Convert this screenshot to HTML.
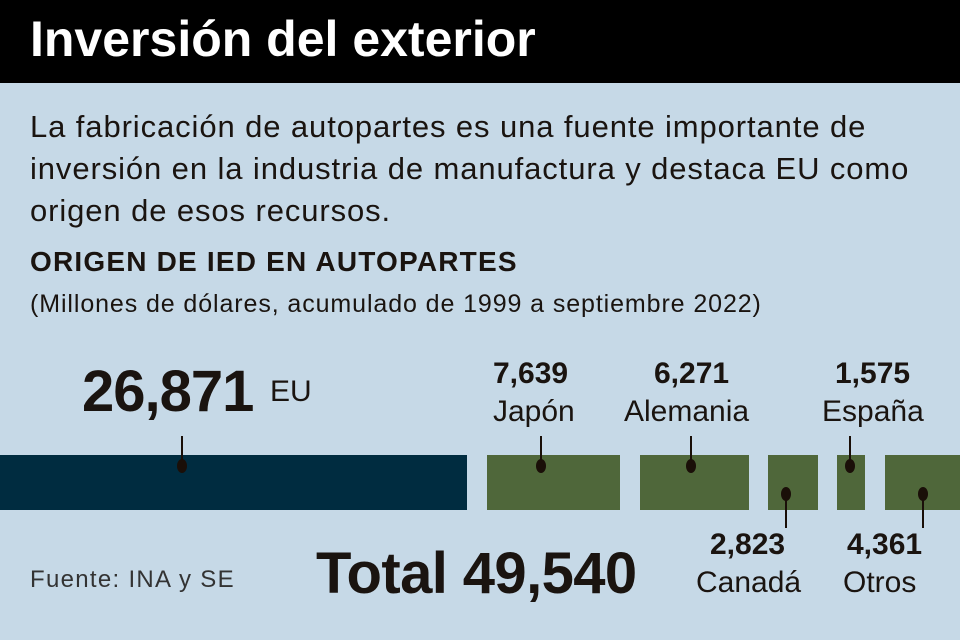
<!DOCTYPE html>
<html><head><meta charset="utf-8"><style>
body{margin:0;width:960px;height:640px;overflow:hidden;background:#c6d9e7;font-family:"Liberation Sans",sans-serif;color:#1a1410;position:relative}
.a{position:absolute;white-space:nowrap}
.hd{position:absolute;left:0;top:0;width:960px;height:83px;background:#000}
.bar{position:absolute;top:455px;height:55px;background:#4f673a}
.dot{position:absolute;width:10px;height:14px;border-radius:50%;background:#1a0f08}
.ln{position:absolute;width:2px;background:#1a0f08}
</style></head><body>
<div class="hd"></div>
<div class="a" style="left:30px;top:10px;font-size:50px;font-weight:bold;color:#fff;letter-spacing:0px">Inversión del exterior</div>
<div class="a" style="left:30px;top:106px;font-size:31px;line-height:42px;letter-spacing:0.9px">La fabricación de autopartes es una fuente importante de<br>inversión en la industria de manufactura y destaca EU como<br>origen de esos recursos.</div>
<div class="a" style="left:30px;top:246px;font-size:28px;font-weight:bold;letter-spacing:1.2px">ORIGEN DE IED EN AUTOPARTES</div>
<div class="a" style="left:30px;top:290px;font-size:25px;letter-spacing:0.9px">(Millones de dólares, acumulado de 1999 a septiembre 2022)</div>
<div class="a" style="left:82px;top:358px;font-size:58px;font-weight:bold;letter-spacing:-1px">26,871</div>
<div class="a" style="left:270px;top:375px;font-size:30px">EU</div>
<div class="a" style="left:493px;top:357px;font-size:30px;font-weight:bold;text-align:center">7,639</div>
<div class="a" style="left:493px;top:395px;font-size:30px">Japón</div>
<div class="a" style="left:654px;top:357px;font-size:30px;font-weight:bold">6,271</div>
<div class="a" style="left:624px;top:395px;font-size:30px">Alemania</div>
<div class="a" style="left:835px;top:357px;font-size:30px;font-weight:bold">1,575</div>
<div class="a" style="left:822px;top:395px;font-size:30px">España</div>
<div class="a" style="left:710px;top:528px;font-size:30px;font-weight:bold">2,823</div>
<div class="a" style="left:696px;top:566px;font-size:30px">Canadá</div>
<div class="a" style="left:847px;top:528px;font-size:30px;font-weight:bold">4,361</div>
<div class="a" style="left:843px;top:566px;font-size:30px">Otros</div>
<div class="a" style="left:30px;top:566px;font-size:24px;color:#333;letter-spacing:1.3px">Fuente: INA y SE</div>
<div class="a" style="left:316px;top:540px;font-size:58px;font-weight:bold;letter-spacing:-0.6px">Total 49,540</div>
<div class="bar" style="left:0;width:467px;background:#002c40"></div>
<div class="bar" style="left:487px;width:133px"></div>
<div class="bar" style="left:640px;width:109px"></div>
<div class="bar" style="left:768px;width:50px"></div>
<div class="bar" style="left:837px;width:28px"></div>
<div class="bar" style="left:885px;width:75px"></div>
<div class="ln" style="left:181px;top:436px;height:30px"></div><div class="dot" style="left:177px;top:459px"></div>
<div class="ln" style="left:540px;top:436px;height:30px"></div><div class="dot" style="left:536px;top:459px"></div>
<div class="ln" style="left:690px;top:436px;height:30px"></div><div class="dot" style="left:686px;top:459px"></div>
<div class="ln" style="left:849px;top:436px;height:30px"></div><div class="dot" style="left:845px;top:459px"></div>
<div class="ln" style="left:785px;top:494px;height:34px"></div><div class="dot" style="left:781px;top:487px"></div>
<div class="ln" style="left:922px;top:494px;height:34px"></div><div class="dot" style="left:918px;top:487px"></div>
</body></html>
